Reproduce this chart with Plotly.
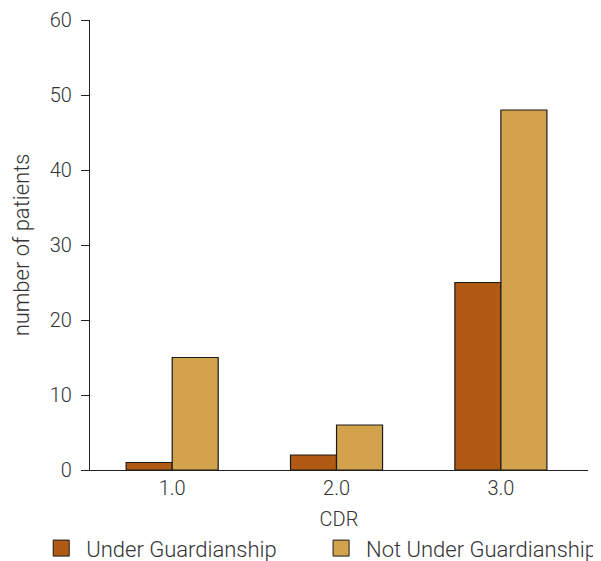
import plotly.graph_objects as go

categories = ["1.0", "2.0", "3.0"]
under_guardianship = [1, 2, 25]
not_under_guardianship = [15, 6, 48]
series_names = ["Under Guardianship", "Not Under Guardianship"]
y_ticks = [0, 10, 20, 30, 40, 50, 60]

colors = ["#B15A13", "#D3A24D"]
FONT = "Roboto"
TXT = "#333333"
legend_ids = ["legend", "legend2"]

fig = go.Figure()
for name, vals, col, lg in zip(series_names, [under_guardianship, not_under_guardianship], colors, legend_ids):
    fig.add_trace(go.Bar(
        x=categories, y=vals, name=name, showlegend=False,
        marker=dict(color=col, line=dict(color="#1a1a1a", width=1.2)),
    ))
    fig.add_trace(go.Scatter(
        x=[None], y=[None], mode="markers", name=name, legend=lg,
        marker=dict(symbol="square", size=16, color=col, line=dict(color="#1a1a1a", width=1)),
    ))

legend_style = dict(
    orientation="h", xanchor="left", y=-0.174, yanchor="middle",
    itemsizing="trace", itemwidth=40,
    font=dict(family=FONT, size=22, color=TXT, weight=300),
    bgcolor="rgba(0,0,0,0)",
)

fig.update_layout(
    width=593, height=553,
    margin=dict(l=82, r=13, t=12, b=91, autoexpand=False),
    paper_bgcolor="white", plot_bgcolor="white",
    barmode="group", bargap=0.44, bargroupgap=0,
    font=dict(family=FONT, size=20, color=TXT, weight=300),
    showlegend=True,
    legend=dict(x=-0.108, **legend_style),
    legend2=dict(x=0.454, **legend_style),
    xaxis=dict(
        type="category", range=[-0.5, 2.53],
        showline=True, linecolor="#222222", linewidth=1.2,
        ticks="", showgrid=False, zeroline=False,
        tickfont=dict(size=20),
        title=dict(text="CDR", standoff=12, font=dict(size=20)),
    ),
    yaxis=dict(
        range=[0, 60], tickvals=y_ticks,
        showline=True, linecolor="#222222", linewidth=1.2,
        ticks="outside", ticklen=8, tickcolor="#222222", tickwidth=1.2,
        ticklabelstandoff=5,
        showgrid=False, zeroline=False,
        tickfont=dict(size=20),
        title=dict(text="number of patients", standoff=14, font=dict(size=22)),
    ),
)

fig.write_html("out.html")
